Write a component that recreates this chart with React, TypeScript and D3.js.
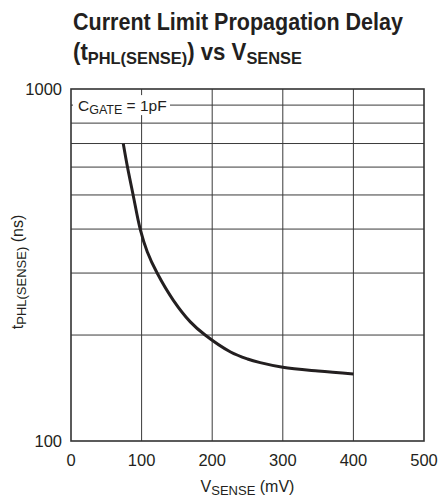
import React, { useEffect, useRef } from 'react';
import * as d3 from 'd3';

// values
const vSense = [74, 80, 88, 98, 108, 122, 145, 169, 190, 226, 250, 268, 300, 350, 400];
const tDelay = [700, 600, 500, 400, 345, 300, 251, 218, 200, 179, 171, 167, 162, 158, 155];

const xTicks = [0, 100, 200, 300, 400, 500];
const yGrid = [200, 300, 400, 500, 600, 700, 800, 900];
const yLabels = [100, 1000];

const FONT = "'Liberation Sans', Arial, sans-serif";
const INK = '#231f20';

export default function App() {
  const svgRef = useRef<SVGSVGElement>(null);

  useEffect(() => {
    const w = 440;
    const h = 502;
    const m = { left: 71, right: 16, top: 89, bottom: 61 };

    const svg = d3.select(svgRef.current)
      .attr('width', w)
      .attr('height', h)
      .style('position', 'absolute')
      .style('left', 0)
      .style('top', 0)
      .style('background', '#fff');
    svg.selectAll('*').remove();

    const x = d3.scaleLinear().domain([0, 500]).range([m.left, w - m.right]);
    const y = d3.scaleLog().domain([100, 1000]).range([h - m.bottom, m.top]);

    // title, squeezed to the condensed width of the original
    svg.append('text')
      .attr('font-family', FONT)
      .attr('font-weight', 'bold')
      .attr('font-size', 23)
      .attr('fill', INK)
      .attr('x', 73)
      .attr('y', 30)
      .attr('textLength', 330)
      .attr('lengthAdjust', 'spacingAndGlyphs')
      .text('Current Limit Propagation Delay');
    const t2 = svg.append('text')
      .attr('font-family', FONT)
      .attr('font-weight', 'bold')
      .attr('font-size', 23)
      .attr('fill', INK)
      .attr('x', 73)
      .attr('y', 60)
      .attr('textLength', 229)
      .attr('lengthAdjust', 'spacingAndGlyphs');
    t2.append('tspan').text('(t');
    t2.append('tspan').attr('font-size', 17).attr('dy', 4).text('PHL(SENSE)');
    t2.append('tspan').attr('dy', -4).text(') vs V');
    t2.append('tspan').attr('font-size', 17).attr('dy', 4).text('SENSE');

    // grid
    const grid = svg.append('g').attr('stroke', '#3a3a3a').attr('stroke-width', 1);
    grid.selectAll('line.v')
      .data(xTicks.slice(1, -1))
      .join('line')
      .attr('class', 'v')
      .attr('x1', d => x(d)).attr('x2', d => x(d))
      .attr('y1', y(1000)).attr('y2', y(100));
    grid.selectAll('line.h')
      .data(yGrid)
      .join('line')
      .attr('class', 'h')
      .attr('x1', x(0)).attr('x2', x(500))
      .attr('y1', d => y(d)).attr('y2', d => y(d));

    // legend box (covers the 900 line behind it)
    svg.append('rect')
      .attr('x', x(0) + 2).attr('y', y(900) - 10)
      .attr('width', 97).attr('height', 20)
      .attr('fill', '#fff');
    const leg = svg.append('text')
      .attr('font-family', FONT)
      .attr('font-size', 15.5)
      .attr('fill', INK)
      .attr('x', x(0) + 7)
      .attr('y', y(900) + 6);
    leg.append('tspan').text('C');
    leg.append('tspan').attr('font-size', 12.5).attr('dy', 3).text('GATE');
    leg.append('tspan').attr('dy', -3).text(' = 1pF');

    // frame
    svg.append('rect')
      .attr('x', x(0)).attr('y', y(1000))
      .attr('width', x(500) - x(0)).attr('height', y(100) - y(1000))
      .attr('fill', 'none')
      .attr('stroke', '#333')
      .attr('stroke-width', 1.6);

    // curve
    const pts = vSense.map((v, i) => [v, tDelay[i]] as [number, number]);
    const line = d3.line<[number, number]>()
      .x(d => x(d[0]))
      .y(d => y(d[1]))
      .curve(d3.curveCatmullRom.alpha(0.5));
    svg.append('path')
      .attr('d', line(pts))
      .attr('fill', 'none')
      .attr('stroke', INK)
      .attr('stroke-width', 3);

    // tick labels
    svg.selectAll('text.xt')
      .data(xTicks)
      .join('text')
      .attr('class', 'xt')
      .attr('font-family', FONT)
      .attr('font-size', 16.5)
      .attr('fill', INK)
      .attr('text-anchor', 'middle')
      .attr('x', d => x(d))
      .attr('y', h - m.bottom + 25)
      .text(d => d);
    svg.selectAll('text.yt')
      .data(yLabels)
      .join('text')
      .attr('class', 'yt')
      .attr('font-family', FONT)
      .attr('font-size', 16.5)
      .attr('fill', INK)
      .attr('text-anchor', 'end')
      .attr('x', m.left - 9)
      .attr('y', d => y(d) + 6)
      .text(d => d);

    // axis titles
    const xt = svg.append('text')
      .attr('font-family', FONT)
      .attr('font-size', 16)
      .attr('fill', INK)
      .attr('text-anchor', 'middle')
      .attr('x', x(250))
      .attr('y', 492);
    xt.append('tspan').text('V');
    xt.append('tspan').attr('font-size', 13).attr('dy', 3).text('SENSE');
    xt.append('tspan').attr('dy', -3).text(' (mV)');

    const yt = svg.append('text')
      .attr('font-family', FONT)
      .attr('font-size', 16)
      .attr('fill', INK)
      .attr('text-anchor', 'middle')
      .attr('transform', `translate(23, 272) rotate(-90)`);
    yt.append('tspan').text('t');
    yt.append('tspan').attr('font-size', 13).attr('dy', 3).text('PHL(SENSE)');
    yt.append('tspan').attr('dy', -3).text(' (ns)');
  }, []);

  return <svg ref={svgRef}></svg>;
}
